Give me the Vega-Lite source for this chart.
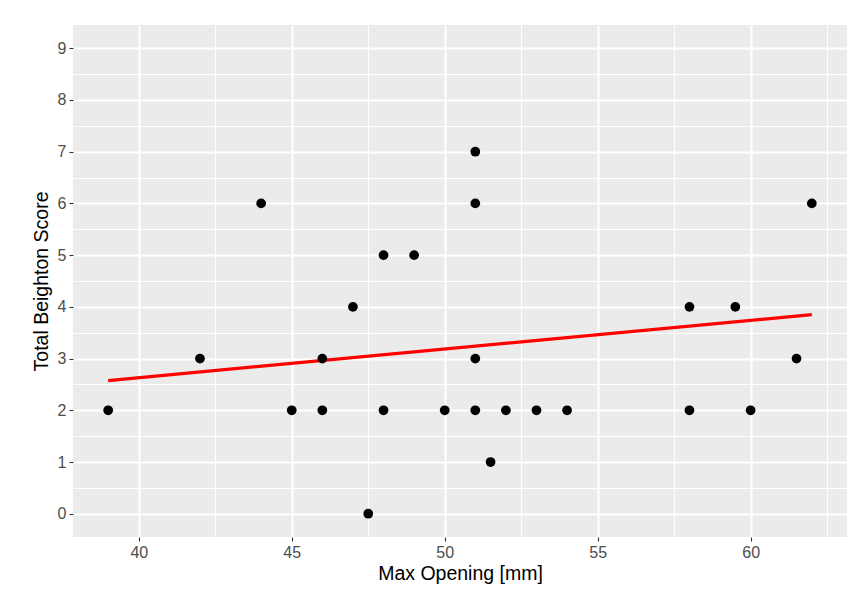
{
  "$schema": "https://vega.github.io/schema/vega-lite/v6.json",
  "width": 774,
  "height": 512,
  "autosize": {"type": "none"},
  "padding": {"left": 73, "top": 25, "right": 16, "bottom": 53},
  "background": "white",
  "datasets": {
    "pts": [
      {"opening": 39, "score": 2},
      {"opening": 42, "score": 3},
      {"opening": 44, "score": 6},
      {"opening": 45, "score": 2},
      {"opening": 46, "score": 3},
      {"opening": 46, "score": 2},
      {"opening": 47, "score": 4},
      {"opening": 47.5, "score": 0},
      {"opening": 48, "score": 5},
      {"opening": 48, "score": 2},
      {"opening": 49, "score": 5},
      {"opening": 50, "score": 2},
      {"opening": 51, "score": 7},
      {"opening": 51, "score": 6},
      {"opening": 51, "score": 3},
      {"opening": 51, "score": 2},
      {"opening": 51.5, "score": 1},
      {"opening": 52, "score": 2},
      {"opening": 53, "score": 2},
      {"opening": 54, "score": 2},
      {"opening": 58, "score": 4},
      {"opening": 58, "score": 2},
      {"opening": 59.5, "score": 4},
      {"opening": 60, "score": 2},
      {"opening": 61.5, "score": 3},
      {"opening": 62, "score": 6}
    ],
    "fit": [
      {"opening": 39, "score": 2.575},
      {"opening": 62, "score": 3.85}
    ]
  },
  "config": {
    "view": {"fill": "#EBEBEB", "stroke": null},
    "font": "Liberation Sans",
    "axis": {
      "labelFont": "Liberation Sans",
      "titleFont": "Liberation Sans",
      "labelFontSize": 16,
      "labelColor": "#4D4D4D",
      "titleFontSize": 19.5,
      "titleFontWeight": "normal",
      "titleColor": "#000000",
      "domain": false,
      "tickColor": "#333333",
      "tickSize": 4,
      "tickWidth": 1.1,
      "gridColor": "#FFFFFF"
    }
  },
  "resolve": {"axis": {"x": "independent", "y": "independent"}},
  "layer": [
    {
      "data": {"name": "pts"},
      "mark": {"type": "point", "opacity": 0},
      "encoding": {
        "x": {
          "field": "opening", "type": "quantitative",
          "scale": {"domain": [37.85, 63.15], "nice": false, "zero": false},
          "axis": {"orient": "bottom", "values": [42.5, 47.5, 52.5, 57.5, 62.5], "grid": true, "gridWidth": 1, "labels": false, "ticks": false, "title": null, "domain": false}
        },
        "y": {
          "field": "score", "type": "quantitative",
          "scale": {"domain": [-0.45, 9.45], "nice": false, "zero": false},
          "axis": {"orient": "left", "values": [0.5, 1.5, 2.5, 3.5, 4.5, 5.5, 6.5, 7.5, 8.5], "grid": true, "gridWidth": 1, "labels": false, "ticks": false, "title": null, "domain": false}
        }
      }
    },
    {
      "data": {"name": "pts"},
      "mark": {"type": "point", "opacity": 0},
      "encoding": {
        "x": {
          "field": "opening", "type": "quantitative",
          "scale": {"domain": [37.85, 63.15], "nice": false, "zero": false},
          "axis": {"orient": "bottom", "values": [40, 45, 50, 55, 60], "grid": true, "gridWidth": 2, "title": "Max Opening [mm]", "labelFontSize": 16, "labelColor": "#4D4D4D", "labelPadding": 3, "titlePadding": 4}
        },
        "y": {
          "field": "score", "type": "quantitative",
          "scale": {"domain": [-0.45, 9.45], "nice": false, "zero": false},
          "axis": {"orient": "left", "values": [0, 1, 2, 3, 4, 5, 6, 7, 8, 9], "grid": true, "gridWidth": 2, "title": "Total Beighton Score", "labelFontSize": 16, "labelColor": "#4D4D4D", "labelPadding": 3, "titlePadding": 6}
        }
      }
    },
    {
      "data": {"name": "fit"},
      "mark": {"type": "line", "color": "#FF0000", "strokeWidth": 3.2, "strokeCap": "butt"},
      "encoding": {
        "x": {"field": "opening", "type": "quantitative", "scale": {"domain": [37.85, 63.15], "nice": false, "zero": false}, "axis": null},
        "y": {"field": "score", "type": "quantitative", "scale": {"domain": [-0.45, 9.45], "nice": false, "zero": false}, "axis": null}
      }
    },
    {
      "data": {"name": "pts"},
      "mark": {"type": "circle", "color": "#000000", "opacity": 1, "size": 95},
      "encoding": {
        "x": {"field": "opening", "type": "quantitative", "scale": {"domain": [37.85, 63.15], "nice": false, "zero": false}, "axis": null},
        "y": {"field": "score", "type": "quantitative", "scale": {"domain": [-0.45, 9.45], "nice": false, "zero": false}, "axis": null}
      }
    }
  ]
}
